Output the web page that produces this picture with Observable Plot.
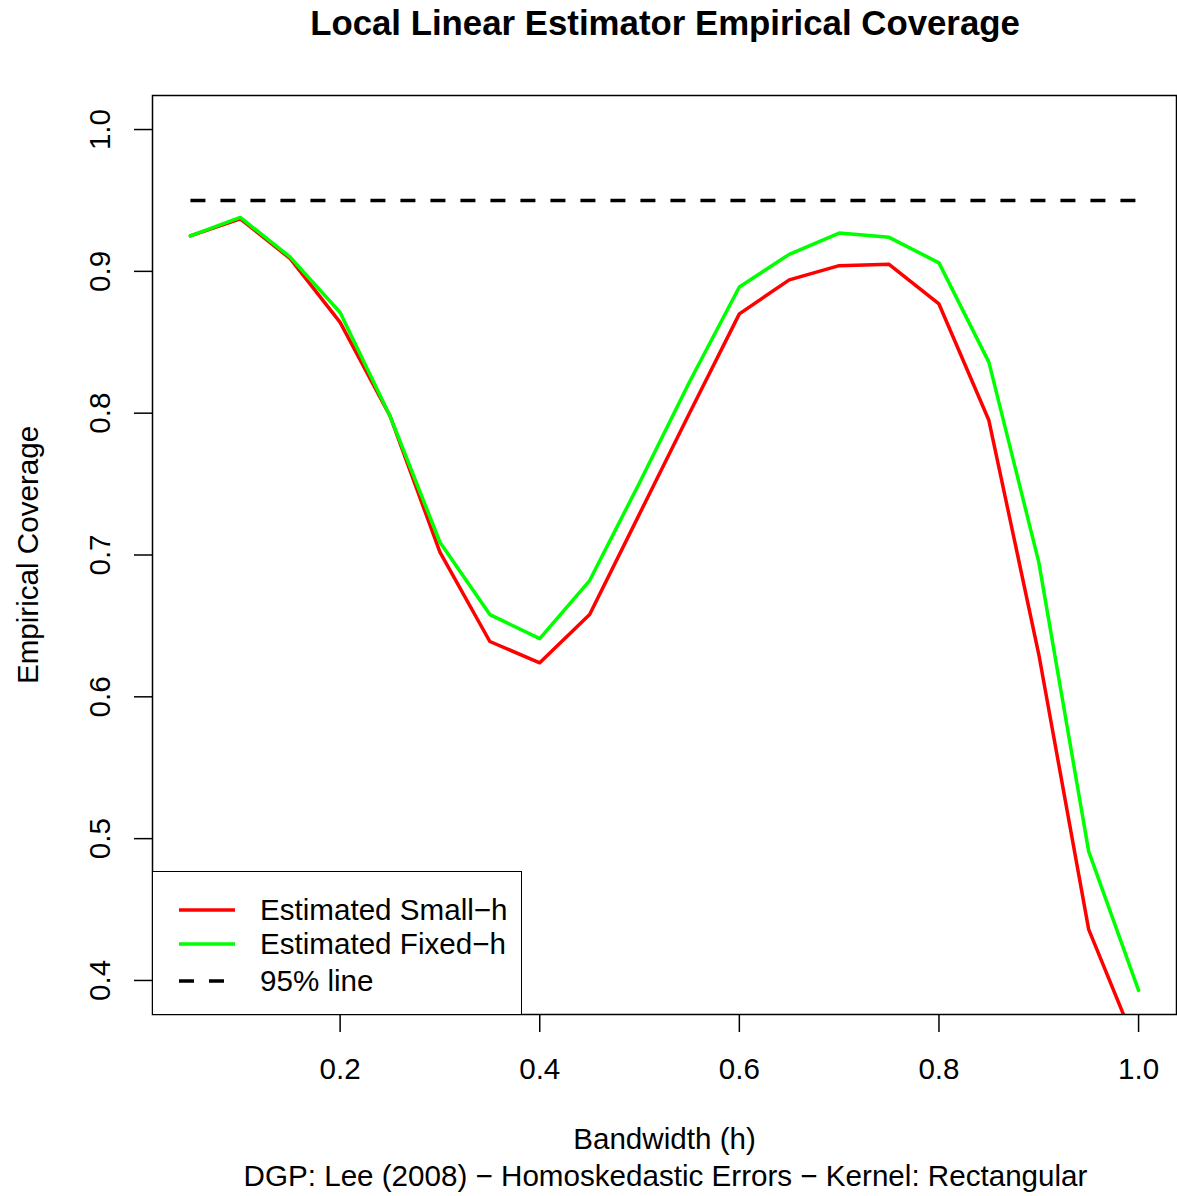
<!DOCTYPE html>
<html>
<head>
<meta charset="utf-8">
<script src="https://cdn.jsdelivr.net/npm/d3@7"></script>
<script src="https://cdn.jsdelivr.net/npm/@observablehq/plot@0.6"></script>
<style>
  html, body { margin: 0; padding: 0; background: #fff; }
  body { width: 1177px; height: 1196px; position: relative; overflow: hidden;
         font-family: "Liberation Sans", Arial, Helvetica, sans-serif; color: #000; }
  #title { position: absolute; left: 0; top: 0; width: 1330px; height: 46px; line-height: 46px;
           text-align: center; font-weight: bold; font-size: 34.8px; }
  #chart { position: absolute; left: 0; top: 48px; }
  #caption { position: absolute; left: 0; top: 1157px; width: 1331px; height: 38px; line-height: 38px;
             text-align: center; font-size: 29.6px; }
  #legend { position: absolute; left: 152px; top: 871px; width: 368px; height: 142px;
            border: 1.5px solid #000; background: #fff; box-sizing: content-box; }
  #legend .row { position: absolute; left: 0; height: 34px; line-height: 34px; font-size: 29.6px; white-space: nowrap; }
  #legend svg { position: absolute; left: 25px; top: 0; }
  #legend span { position: absolute; left: 107px; top: 0; }
</style>
</head>
<body>
<div id="title">Local Linear Estimator Empirical Coverage</div>
<div id="chart"></div>
<div id="caption">DGP: Lee (2008) &minus; Homoskedastic Errors &minus; Kernel: Rectangular</div>
<div id="legend"></div>
<script>
// Bandwidths evaluated and the empirical coverage of each interval type
const bandwidth = [0.05, 0.10, 0.15, 0.20, 0.25, 0.30, 0.35, 0.40, 0.45, 0.50,
                   0.55, 0.60, 0.65, 0.70, 0.75, 0.80, 0.85, 0.90, 0.95, 1.00];
const smallH = [0.925, 0.937, 0.909, 0.864, 0.798, 0.702, 0.639, 0.624, 0.658, 0.729,
                0.800, 0.870, 0.894, 0.904, 0.905, 0.877, 0.795, 0.630, 0.436, 0.350];
const fixedH = [0.925, 0.938, 0.910, 0.871, 0.798, 0.709, 0.658, 0.641, 0.682, 0.751,
                0.822, 0.889, 0.912, 0.927, 0.924, 0.906, 0.836, 0.695, 0.491, 0.393];
const nominal = 0.95;
const nominalRange = [0.05, 1.0];

const xTicks = [0.2, 0.4, 0.6, 0.8, 1.0];
const yTicks = [0.4, 0.5, 0.6, 0.7, 0.8, 0.9, 1.0];

const seriesNames = ["Estimated Small\u2212h", "Estimated Fixed\u2212h", "95% line"];
const seriesColors = ["#ff0000", "#00ff00", "#000000"];

const smallRows = bandwidth.map((h, i) => ({h, v: smallH[i]}));
const fixedRows = bandwidth.map((h, i) => ({h, v: fixedH[i]}));
const nominalRows = nominalRange.map(h => ({h, v: nominal}));

const fmt = d3.format(".1f");
const lw = 3.5;
const fs = 29.6;

const chart = Plot.plot({
  width: 1177,
  height: 1110,
  marginLeft: 152,
  marginRight: 1,
  marginTop: 47,
  marginBottom: 144,
  style: {fontFamily: "Liberation Sans, Arial, Helvetica, sans-serif", fontSize: fs + "px", color: "#000", background: "#fff"},
  x: {domain: [0.012, 1.038]},
  y: {domain: [0.376, 1.024]},
  marks: [
    Plot.line(nominalRows, {x: "h", y: "v", stroke: seriesColors[2], strokeWidth: lw,
                            strokeDasharray: "15,15", strokeLinecap: "butt", clip: true}),
    Plot.line(smallRows, {x: "h", y: "v", stroke: seriesColors[0], strokeWidth: lw, clip: true}),
    Plot.line(fixedRows, {x: "h", y: "v", stroke: seriesColors[1], strokeWidth: lw, clip: true}),
    Plot.frame({stroke: "#000", strokeWidth: 1.5}),
    Plot.axisX({ticks: xTicks, tickSize: 18, tickPadding: 25, tickFormat: fmt,
                label: null, strokeWidth: 1.5, fontSize: fs}),
    Plot.axisY({ticks: yTicks, tickSize: 18, tickFormat: () => "", label: null, strokeWidth: 1.5}),
    // y tick labels run parallel to the axis
    Plot.text(yTicks, {y: d => d, text: d => fmt(d), frameAnchor: "left", dx: -52,
                       rotate: -90, textAnchor: "middle", lineAnchor: "middle", fontSize: fs}),
    Plot.text(["Empirical Coverage"], {text: d => d, frameAnchor: "left", dx: -124,
                       rotate: -90, textAnchor: "middle", lineAnchor: "middle", fontSize: fs}),
    Plot.text(["Bandwidth (h)"], {text: d => d, frameAnchor: "bottom", dy: 125,
                       textAnchor: "middle", lineAnchor: "middle", fontSize: fs})
  ]
});
document.getElementById("chart").appendChild(chart);

// Legend box in the lower-left corner of the panel
const legend = document.getElementById("legend");
const rowTops = [21, 55, 92];
seriesNames.forEach((name, i) => {
  const row = document.createElement("div");
  row.className = "row";
  row.style.top = rowTops[i] + "px";
  const dash = i === 2 ? ' stroke-dasharray="15,15"' : "";
  row.innerHTML = `<svg width="58" height="34"><line x1="1" x2="57" y1="17" y2="17" stroke="${seriesColors[i]}" stroke-width="${lw}"${dash}/></svg><span>${name}</span>`;
  legend.appendChild(row);
});
</script>
</body>
</html>
